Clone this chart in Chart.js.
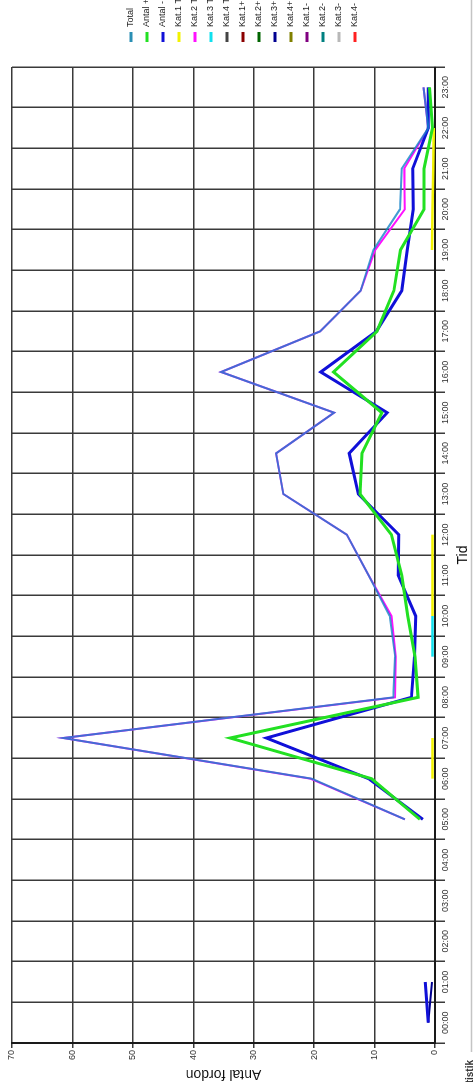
<!DOCTYPE html>
<html>
<head>
<meta charset="utf-8">
<script src="https://cdn.jsdelivr.net/npm/chart.js@4.4.0/dist/chart.umd.min.js"></script>
<style>
    html, body { margin: 0; padding: 0; background: #fff; overflow: hidden; }
    #wrap {
        position: absolute; left: 0; top: 0;
        width: 1082px; height: 473px;
        transform-origin: 0 0;
        transform: rotate(-90deg) translate(-1082px, 0);
    }
</style>
</head>
<body>
<div id="wrap"><canvas id="chart" width="1082" height="473"></canvas></div>
<script>
// tick labels
const hours = ['00:00', '01:00', '02:00', '03:00', '04:00', '05:00', '06:00', '07:00',
    '08:00', '09:00', '10:00', '11:00', '12:00', '13:00', '14:00', '15:00',
    '16:00', '17:00', '18:00', '19:00', '20:00', '21:00', '22:00', '23:00'];
const yTicks = [0, 10, 20, 30, 40, 50, 60, 70];

// series names (legend order)
const seriesNames = ['Total', 'Antal +', 'Antal -', 'Kat.1 Totalt', 'Kat.2 Totalt', 'Kat.3 Totalt',
    'Kat.4 Totalt', 'Kat.1+', 'Kat.2+', 'Kat.3+', 'Kat.4+', 'Kat.1-', 'Kat.2-', 'Kat.3-', 'Kat.4-'];

// values per hour, null = no data
const total      = [null, null, null, null, null, 5, 20.4, 61.5, 6.9, 6.6, 7.5, 11, 14.6, 25.1, 26.3, 16.7, 35.4, 19, 12.3, 10.2, 5.8, 5.5, 1.1, 1.9];
const antalPlus  = [null, null, null, null, null, 2.5, 10.5, 33.9, 2.8, 3.3, 4.5, 5.5, 7.2, 12.4, 12.1, 8.8, 16.8, 9.6, 6.8, 5.7, 1.8, 1.8, 0.4, 0.9];
const antalMinus = [1.1, 1.6, null, null, null, 2.0, 11, 27.9, 3.9, 3.4, 3.2, 6.1, 6.0, 12.7, 14.2, 7.9, 18.9, 9.7, 5.5, 4.6, 3.6, 3.7, 1.1, 1.1];
const kat1Tot    = [null, null, null, null, null, null, 0.4, 0.4, null, null, 0.4, 0.4, 0.4, null, null, null, null, null, null, 0.5, 0.4, 0.3, 0.2, null];
const kat2Tot    = [null, null, null, null, null, 5, 20.6, 61.5, 6.6, 6.5, 7.2, 11, 14.6, 25.1, 26.3, 16.7, 35.4, 19, 12.3, 9.9, 5.0, 5.1, 1.1, 1.9];
const kat3Tot    = [null, null, null, null, null, null, null, null, null, 0.4, 0.4, null, null, null, null, null, null, null, null, null, null, null, null, null];
const kat3Plus   = [1.1, 0.5];

const seriesData = [total, antalPlus, antalMinus, kat1Tot, kat2Tot, kat3Tot, [], [], [], kat3Plus, [], [], [], [], []];

const legendColors = ['#2a8fb4', '#22e022', '#1010d8', '#f2f200', '#ff10ff', '#10e0ee', '#444444',
    '#8b0000', '#006400', '#000090', '#808000', '#800080', '#008080', '#b8b8b8', '#ff2020'];
const lineColors = legendColors.slice();
lineColors[0] = 'rgba(20,130,200,0.8)';
const lineWidths = [2, 3, 3, 2.5, 2, 2.5, 2, 2, 2, 2, 2, 2, 2, 2, 2];

const datasets = seriesNames.map((name, i) => ({
    label: name,
    data: seriesData[i],
    borderColor: lineColors[i],
    backgroundColor: legendColors[i],
    borderWidth: lineWidths[i],
    fill: false,
    spanGaps: false
}));

// legend drawn on the right side of the (unrotated) chart, plus the page frame
const sideLegend = {
    id: 'sideLegend',
    afterDraw(chart) {
        const ctx = chart.ctx;
        ctx.save();
        ctx.font = '9px "Liberation Sans", Arial, sans-serif';
        ctx.textBaseline = 'middle';
        chart.data.datasets.forEach((ds, i) => {
            const y = 131 + i * 16;
            ctx.strokeStyle = ds.backgroundColor;
            ctx.lineWidth = 3;
            ctx.beginPath();
            ctx.moveTo(1040, y);
            ctx.lineTo(1050, y);
            ctx.stroke();
            ctx.fillStyle = '#222';
            ctx.fillText(ds.label, 1055, y);
        });

        // frame line and cut-off footer text
        ctx.strokeStyle = '#c4c4c4';
        ctx.lineWidth = 1.5;
        ctx.beginPath();
        ctx.moveTo(30, 471.5);
        ctx.lineTo(1082, 471.5);
        ctx.stroke();
        ctx.font = 'bold 10px "Liberation Sans", Arial, sans-serif';
        ctx.textAlign = 'right';
        ctx.textBaseline = 'top';
        ctx.fillStyle = '#333';
        ctx.fillText('Trafikstatistik', 22, 465);
        ctx.restore();
    }
};

const tickFont = { family: '"Liberation Sans", Arial, sans-serif', size: 9 };
const titleFont = { family: '"Liberation Sans", Arial, sans-serif', size: 14 };

new Chart(document.getElementById('chart').getContext('2d'), {
    type: 'line',
    data: { labels: hours, datasets: datasets },
    options: {
        responsive: false,
        animation: false,
        layout: { padding: { top: 12, right: 67, bottom: 0, left: 0 } },
        elements: { point: { radius: 0 }, line: { tension: 0 } },
        plugins: { legend: { display: false }, tooltip: { enabled: false } },
        scales: {
            x: {
                offset: true,
                grid: { offset: true, color: '#3a3a3a', lineWidth: 1.5, tickLength: 10 },
                border: { color: '#1a1a1a', width: 2 },
                ticks: { color: '#333', font: tickFont, padding: -5, maxRotation: 0, autoSkip: false },
                title: { display: true, text: 'Tid', color: '#111', font: titleFont, padding: { top: 0, bottom: 1 } },
                afterFit(scale) { scale.height = 38; }
            },
            y: {
                min: 0,
                max: 70,
                afterBuildTicks(scale) { scale.ticks = yTicks.map(v => ({ value: v })); },
                grid: { color: '#3a3a3a', lineWidth: 1.5, tickLength: 5 },
                border: { color: '#1a1a1a', width: 2 },
                ticks: { color: '#333', font: tickFont, padding: 2 },
                title: { display: true, text: 'Antal fordon', color: '#111', font: titleFont, padding: { top: 0, bottom: 0 } },
                afterFit(scale) { scale.width = 39; }
            }
        }
    },
    plugins: [sideLegend]
});
</script>
</body>
</html>
